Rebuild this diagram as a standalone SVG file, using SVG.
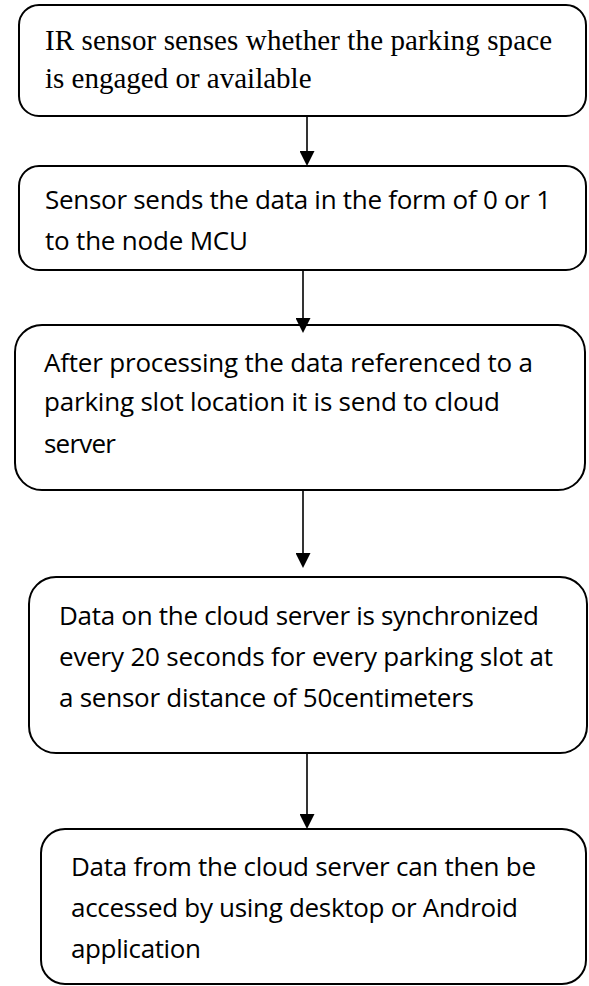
<svg xmlns="http://www.w3.org/2000/svg" width="589" height="986" viewBox="0 0 589 986">
  <defs>
    <style>
      .box { fill: #ffffff; stroke: #000000; stroke-width: 2; }
      .serif { font-family: "Liberation Serif", "Times New Roman", serif; font-size: 29px; fill: #000000; }
      .sans { font-family: "Open Sans", "Liberation Sans", sans-serif; font-size: 26px; fill: #000000; }
      .conn { stroke: #000000; stroke-width: 1.6; fill: none; marker-end: url(#arrow); }
    </style>
    <marker id="arrow" viewBox="0 0 15 15" markerWidth="15" markerHeight="15" refX="7" refY="7.5" orient="auto" markerUnits="userSpaceOnUse">
      <path d="M0,0 L15,7.5 L0,15 z" fill="#000000"/>
    </marker>
  </defs>
  <rect width="589" height="986" fill="#ffffff"/>

  <g id="n1">
    <rect class="box" x="19" y="5" width="567" height="111" rx="20" ry="20"/>
    <text class="serif" x="45" y="50" textLength="507">IR sensor senses whether the parking space</text>
    <text class="serif" x="45" y="87.5">is engaged or available</text>
  </g>

  <g id="n2">
    <rect class="box" x="19" y="166" width="567" height="104" rx="20" ry="20"/>
    <text class="sans" x="45" y="209" textLength="506">Sensor sends the data in the form of 0 or 1</text>
    <text class="sans" x="45" y="250" textLength="203">to the node MCU</text>
  </g>

  <g id="n3">
    <rect class="box" x="15" y="325" width="570" height="165" rx="27" ry="27"/>
    <text class="sans" x="44" y="371.5" textLength="489">After processing the data referenced to a</text>
    <text class="sans" x="44" y="411" textLength="456">parking slot location it is send to cloud</text>
    <text class="sans" x="44" y="452.5" textLength="72">server</text>
  </g>

  <g id="n4">
    <rect class="box" x="29" y="577" width="558" height="176" rx="27" ry="27"/>
    <text class="sans" x="59" y="624.5" textLength="480">Data on the cloud server is synchronized</text>
    <text class="sans" x="59" y="665.5" textLength="494">every 20 seconds for every parking slot at</text>
    <text class="sans" x="59" y="706.5" textLength="415">a sensor distance of 50centimeters</text>
  </g>

  <g id="n5">
    <rect class="box" x="41" y="829" width="545" height="155" rx="24" ry="24"/>
    <text class="sans" x="71" y="876" textLength="465">Data from the cloud server can then be</text>
    <text class="sans" x="71" y="917" textLength="447">accessed by using desktop or Android</text>
    <text class="sans" x="71" y="958" textLength="130">application</text>
  </g>

  <g id="connectors">
    <line class="conn" x1="307" y1="116" x2="307" y2="158"/>
    <line class="conn" x1="303" y1="270" x2="303" y2="325"/>
    <line class="conn" x1="303" y1="490" x2="303" y2="560"/>
    <line class="conn" x1="307" y1="753" x2="307" y2="821"/>
  </g>
</svg>
